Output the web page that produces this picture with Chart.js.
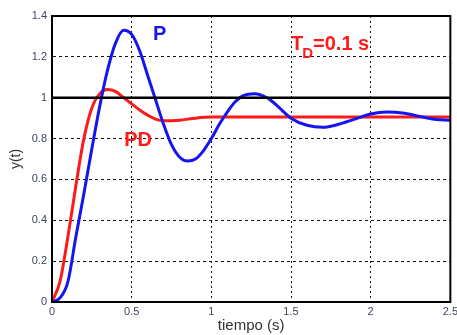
<!DOCTYPE html>
<html>
<head>
<meta charset="utf-8">
<script src="https://cdn.jsdelivr.net/npm/chart.js@4.4.0/dist/chart.umd.min.js"></script>
<style>
  html, body { margin: 0; padding: 0; background: #fff; overflow: hidden; }
  #wrap { width: 461px; height: 335px; }
</style>
</head>
<body>
<div id="wrap"><canvas id="stepChart"></canvas></div>
<script>
// time samples (s) and responses
const tP = [0, 0.05, 0.1, 0.15, 0.2, 0.25, 0.3, 0.35, 0.4, 0.45, 0.5, 0.55, 0.6, 0.65, 0.7, 0.75, 0.8, 0.85, 0.9, 0.95, 1.0, 1.05, 1.1, 1.15, 1.2, 1.27, 1.35, 1.4, 1.5, 1.6, 1.7, 1.8, 1.9, 2.0, 2.1, 2.2, 2.3, 2.4, 2.5];
const yP = [0, 0.02, 0.1, 0.32, 0.53, 0.75, 0.96, 1.14, 1.27, 1.33, 1.31, 1.23, 1.11, 0.99, 0.87, 0.77, 0.71, 0.69, 0.70, 0.74, 0.80, 0.87, 0.93, 0.98, 1.01, 1.02, 1.0, 0.97, 0.90, 0.865, 0.855, 0.87, 0.895, 0.92, 0.93, 0.925, 0.91, 0.895, 0.89];

const tPD = [0, 0.05, 0.1, 0.15, 0.2, 0.25, 0.3, 0.35, 0.4, 0.45, 0.5, 0.55, 0.6, 0.65, 0.7, 0.8, 0.9, 1.0, 1.2, 1.5, 2.0, 2.5];
const yPD = [0, 0.1, 0.32, 0.57, 0.8, 0.95, 1.02, 1.04, 1.03, 1.0, 0.97, 0.94, 0.915, 0.895, 0.887, 0.89, 0.9, 0.905, 0.905, 0.905, 0.905, 0.905];

const tRef = [0, 2.5];
const yRef = [1, 1];

const xTicks = [0, 0.5, 1, 1.5, 2, 2.5];
const yTicks = [0, 0.2, 0.4, 0.6, 0.8, 1, 1.2, 1.4];

const toPoints = (xs, ys) => xs.map((x, i) => ({ x: x, y: ys[i] }));

const labelsPlugin = {
    id: 'curveLabels',
    afterDatasetsDraw(chart) {
        const ctx = chart.ctx;
        const xs = chart.scales.x;
        const ys = chart.scales.y;
        ctx.save();
        ctx.textBaseline = 'middle';
        ctx.textAlign = 'center';
        ctx.font = 'bold 20px Arial, "Liberation Sans", sans-serif';
        ctx.fillStyle = '#1515ee';
        ctx.fillText('P', xs.getPixelForValue(0.675), ys.getPixelForValue(1.31));
        ctx.fillStyle = '#ff1a1a';
        ctx.fillText('PD', xs.getPixelForValue(0.54), ys.getPixelForValue(0.79));

        // T_D=0.1 s with subscript
        ctx.textAlign = 'left';
        let x = xs.getPixelForValue(1.5);
        const y = ys.getPixelForValue(1.26);
        ctx.font = 'bold 20px Arial, "Liberation Sans", sans-serif';
        ctx.fillText('T', x, y);
        x += ctx.measureText('T').width - 1;
        ctx.font = 'bold 15px Arial, "Liberation Sans", sans-serif';
        ctx.fillText('D', x, y + 9);
        x += ctx.measureText('D').width;
        ctx.font = 'bold 20px Arial, "Liberation Sans", sans-serif';
        ctx.fillText('=0.1 s', x, y);
        ctx.restore();
    }
};

const gridColor = '#111';
const tickColor = '#3d4660';
const tickFont = { family: 'Arial, "Liberation Sans", sans-serif', size: 11 };

new Chart(document.getElementById('stepChart'), {
    type: 'line',
    data: {
        datasets: [
            {
                label: 'ref',
                data: toPoints(tRef, yRef),
                borderColor: '#000',
                borderWidth: 2.5,
                pointRadius: 0,
                tension: 0
            },
            {
                label: 'P',
                data: toPoints(tP, yP),
                borderColor: '#1515ee',
                borderWidth: 3,
                pointRadius: 0,
                cubicInterpolationMode: 'monotone'
            },
            {
                label: 'PD',
                data: toPoints(tPD, yPD),
                borderColor: '#ff1a1a',
                borderWidth: 3,
                pointRadius: 0,
                cubicInterpolationMode: 'monotone'
            }
        ]
    },
    options: {
        responsive: true,
        maintainAspectRatio: false,
        animation: false,
        layout: { padding: { top: 16, right: 0, left: 0, bottom: 0 } },
        plugins: {
            legend: { display: false },
            tooltip: { enabled: false }
        },
        scales: {
            x: {
                type: 'linear',
                min: 0,
                max: 2.5,
                afterBuildTicks: (s) => { s.ticks = xTicks.map(v => ({ value: v })); },
                afterFit: (s) => { s.height = 33; },
                ticks: {
                    color: tickColor,
                    font: tickFont,
                    padding: 3,
                    maxRotation: 0,
                    callback: v => String(v)
                },
                grid: {
                    color: gridColor,
                    lineWidth: 1,
                    drawTicks: false
                },
                border: { color: '#000', width: 2, dash: [2, 3] },
                title: {
                    display: true,
                    text: 'tiempo (s)',
                    color: '#333',
                    font: { family: 'Arial, "Liberation Sans", sans-serif', size: 15 },
                    padding: { top: 0, bottom: 0 }
                }
            },
            y: {
                min: 0,
                max: 1.4,
                afterBuildTicks: (s) => { s.ticks = yTicks.map(v => ({ value: v })); },
                afterFit: (s) => { s.width = 52; },
                ticks: {
                    color: tickColor,
                    font: tickFont,
                    padding: 5,
                    callback: v => String(v)
                },
                grid: {
                    color: gridColor,
                    lineWidth: 1,
                    drawTicks: false
                },
                border: { color: '#000', width: 2, dash: [3, 3] },
                title: {
                    display: true,
                    text: 'y(t)',
                    color: '#333',
                    font: { family: 'Arial, "Liberation Sans", sans-serif', size: 14 },
                    padding: { top: 8, bottom: 2 }
                }
            }
        }
    },
    plugins: [labelsPlugin, {
        id: 'frame',
        afterDraw(chart) {
            const a = chart.chartArea;
            const ctx = chart.ctx;
            ctx.save();
            ctx.strokeStyle = '#000';
            ctx.lineWidth = 2;
            ctx.strokeRect(a.left, a.top, a.right - a.left, a.bottom - a.top);
            ctx.restore();
        }
    }]
});
</script>
</body>
</html>
